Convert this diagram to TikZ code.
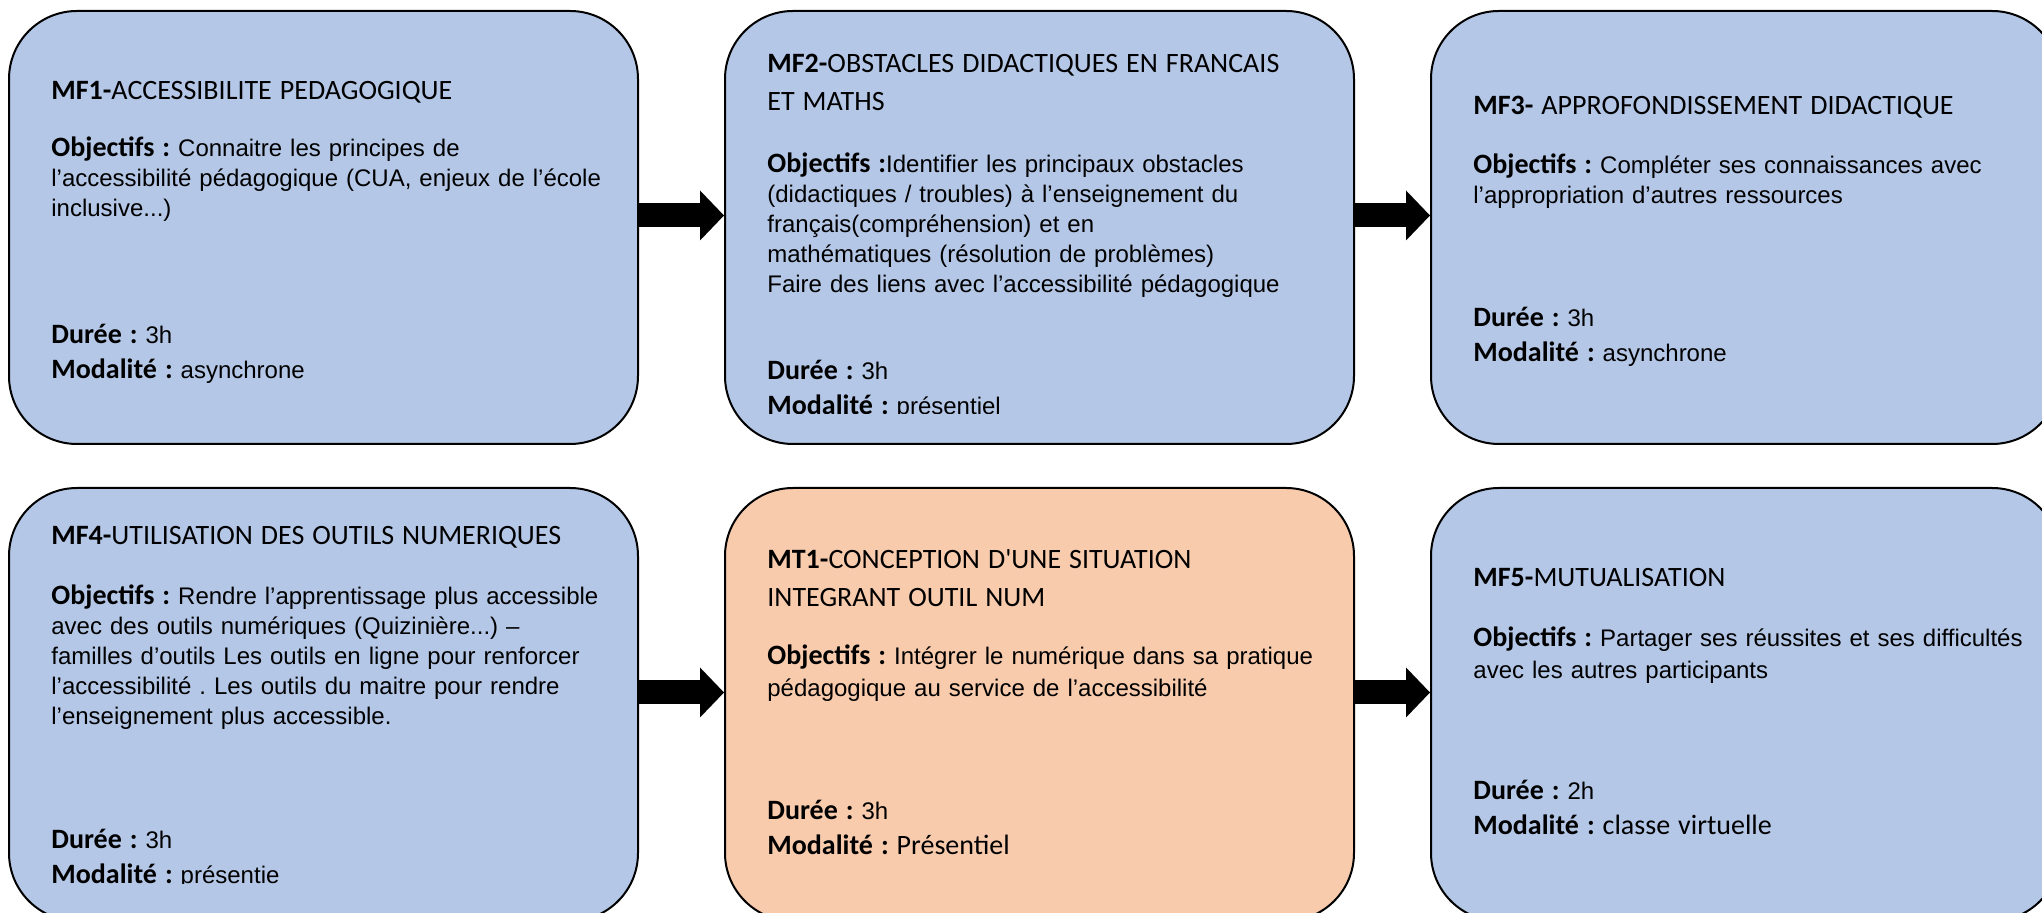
\documentclass[tikz,border=0pt]{standalone}
\usepackage{fontspec}
\setmainfont{Liberation Sans}
\newfontfamily\calfont{Carlito}[Ligatures=TeXOff]
\usetikzlibrary{positioning,arrows.meta}
\definecolor{modblue}{HTML}{B4C7E7}
\definecolor{modorange}{HTML}{F8CBAD}
\newcommand{\modhead}[2]{{\calfont\fontsize{14}{15}\selectfont\textbf{#1}#2}}
\newcommand{\modlab}[1]{{\calfont\fontsize{14}{15}\selectfont\textbf{#1}}}
\newcommand{\modcal}[1]{{\calfont\fontsize{14}{15}\selectfont #1}}

\begin{document}
\begin{tikzpicture}[
module/.style={rectangle, draw=black, line width=1pt, fill=modblue, rounded corners=34pt, minimum width=314.5pt, minimum height=216.5pt, inner sep=0pt},
txt/.style={anchor=base west, text width=292pt, align=left, inner sep=0pt, font=\fontsize{12}{15}\selectfont\frenchspacing},
link/.style={line width=12pt, -{Triangle[width=25pt,length=12pt,line width=0pt]}},
]
\useasboundingbox (0,0) rectangle (1021pt,-456.5pt);

\node[module, anchor=north west] (mf1) at (4pt,-5pt) {};
\node[module, right = 42.5pt of mf1] (mf2) {};
\node[module, right = 37.5pt of mf2] (mf3) {};

\node[module, below = 21pt of mf1] (mf4) {};
\node[module, fill=modorange, below = 21pt of mf2] (mt1) {};
\node[module, below = 21pt of mf3] (mf5) {};

\node[txt] (t1) at ([xshift=21.5pt,yshift=-45pt]mf1.north west) {\modhead{MF1-}{ACCESSIBILITE PEDAGOGIQUE}\\[13.5pt]
\modlab{Objectifs :} Connaitre les principes de\\
l’accessibilité pédagogique (CUA, enjeux de l’école\\
inclusive...)\\[48.5pt]
\modlab{Durée :} 3h\\[2.5pt]
\modlab{Modalité :} asynchrone};

\begin{scope}
\clip ([yshift=-202pt]mf2.north west) rectangle (mf2.north east);
\node[txt] (t2) at ([xshift=21.5pt,yshift=-31.5pt]mf2.north west) {\modhead{MF2-}{OBSTACLES DIDACTIQUES EN FRANCAIS}\\[4pt]
\modcal{ET MATHS}\\[16pt]
\modlab{Objectifs :}Identifier les principaux obstacles\\
(didactiques / troubles) à l’enseignement du\\
français(compréhension) et en\\
mathématiques (résolution de problèmes)\\
Faire des liens avec l’accessibilité pédagogique\\[28.5pt]
\modlab{Durée :} 3h\\[2.5pt]
\modlab{Modalité :} présentiel};
\end{scope}

\node[txt] (t3) at ([xshift=21.5pt,yshift=-52.5pt]mf3.north west) {\modhead{MF3-}{ APPROFONDISSEMENT DIDACTIQUE}\\[14.5pt]
\modlab{Objectifs :} Compléter ses connaissances avec\\
l’appropriation d’autres ressources\\[46.5pt]
\modlab{Durée :} 3h\\[2.5pt]
\modlab{Modalité :} asynchrone};

\begin{scope}
\clip ([yshift=-198.5pt]mf4.north west) rectangle (mf4.north east);
\node[txt] (t4) at ([xshift=21.5pt,yshift=-29pt]mf4.north west) {\modhead{MF4-}{UTILISATION DES OUTILS NUMERIQUES}\\[15pt]
\modlab{Objectifs :} Rendre l’apprentissage plus accessible\\
avec des outils numériques (Quizinière...) –\\
familles d’outils Les outils en ligne pour renforcer\\
l’accessibilité . Les outils du maitre pour rendre\\
l’enseignement plus accessible.\\[47pt]
\modlab{Durée :} 3h\\[2.5pt]
\modlab{Modalité :} présentie};
\end{scope}

\node[txt] (t5) at ([xshift=21.5pt,yshift=-41pt]mt1.north west) {\modhead{MT1-}{CONCEPTION D'UNE SITUATION}\\[4pt]
\modcal{INTEGRANT OUTIL NUM}\\[14pt]
\modlab{Objectifs :} Intégrer le numérique dans sa pratique\\[1pt]
pédagogique au service de l’accessibilité\\[46.5pt]
\modlab{Durée :} 3h\\[2.5pt]
\modlab{Modalité :} \modcal{Présentiel}};

\node[txt] (t6) at ([xshift=21.5pt,yshift=-50pt]mf5.north west) {\modhead{MF5-}{MUTUALISATION}\\[15pt]
\modlab{Objectifs :} Partager ses réussites et ses difficultés\\[1pt]
avec les autres participants\\[45.5pt]
\modlab{Durée :} 2h\\[2.5pt]
\modlab{Modalité :} \modcal{classe virtuelle}};

\draw[link] ([yshift=6pt]mf1.east) -- ([yshift=6pt]mf2.west);
\draw[link] ([yshift=6pt]mf2.east) -- ([yshift=6pt]mf3.west);
\draw[link] ([yshift=6pt]mf4.east) -- ([yshift=6pt]mt1.west);
\draw[link] ([yshift=6pt]mt1.east) -- ([yshift=6pt]mf5.west);

\end{tikzpicture}
\end{document}
